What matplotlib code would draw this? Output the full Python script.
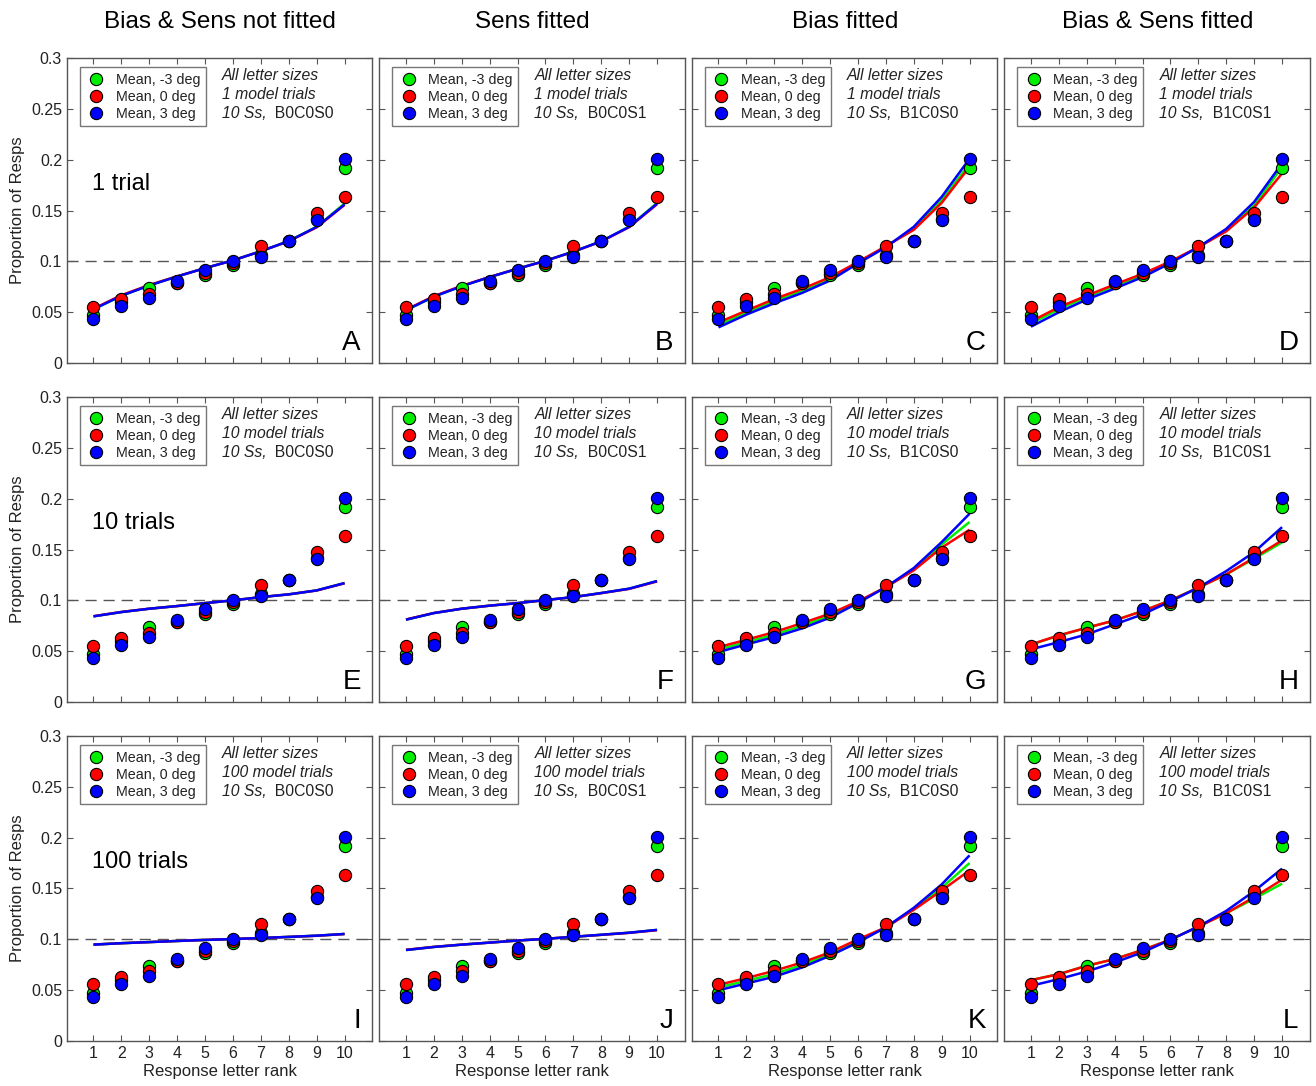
import matplotlib
matplotlib.use("Agg")
import matplotlib.pyplot as plt
from matplotlib.lines import Line2D

plt.rcParams['font.family'] = ['Liberation Sans', 'DejaVu Sans']

# Response letter rank
ranks = [1, 2, 3, 4, 5, 6, 7, 8, 9, 10]
ytick_vals = [0, 0.05, 0.1, 0.15, 0.2, 0.25, 0.3]
ytick_labels = ["0", "0.05", "0.1", "0.15", "0.2", "0.25", "0.3"]

# Observed mean proportion of responses at each eccentricity
obs_m3 = [0.0474, 0.0600, 0.0734, 0.0790, 0.0862, 0.0967, 0.1060, 0.1198, 0.1420, 0.1914]
obs_0 = [0.0556, 0.0628, 0.0684, 0.0786, 0.0885, 0.0987, 0.1155, 0.1196, 0.1477, 0.1632]
obs_p3 = [0.0434, 0.0559, 0.0641, 0.0803, 0.0911, 0.1003, 0.1043, 0.1200, 0.1405, 0.2010]

# Model predictions per panel: (-3 deg, 0 deg, 3 deg)
fit_A = ([0.0530, 0.0660, 0.0765, 0.0852, 0.0934, 0.1010, 0.1100, 0.1200, 0.1340, 0.1570],
         [0.0535, 0.0668, 0.0768, 0.0853, 0.0934, 0.1010, 0.1100, 0.1198, 0.1335, 0.1555],
         [0.0530, 0.0662, 0.0763, 0.0852, 0.0934, 0.1010, 0.1100, 0.1200, 0.1339, 0.1560])
fit_B = ([0.0520, 0.0652, 0.0757, 0.0846, 0.0928, 0.1006, 0.1096, 0.1198, 0.1342, 0.1575],
         [0.0525, 0.0658, 0.0760, 0.0847, 0.0928, 0.1006, 0.1095, 0.1196, 0.1336, 0.1562],
         [0.0520, 0.0654, 0.0756, 0.0846, 0.0928, 0.1006, 0.1096, 0.1198, 0.1340, 0.1568])
fit_C = ([0.0375, 0.0497, 0.0610, 0.0710, 0.0830, 0.0990, 0.1145, 0.1325, 0.1600, 0.1960],
         [0.0400, 0.0516, 0.0630, 0.0730, 0.0845, 0.0995, 0.1150, 0.1310, 0.1575, 0.1930],
         [0.0351, 0.0477, 0.0588, 0.0690, 0.0812, 0.0980, 0.1140, 0.1340, 0.1634, 0.2010])
fit_D = ([0.0390, 0.0530, 0.0650, 0.0760, 0.0865, 0.0995, 0.1140, 0.1305, 0.1550, 0.1930],
         [0.0410, 0.0550, 0.0664, 0.0773, 0.0878, 0.1000, 0.1140, 0.1296, 0.1530, 0.1865],
         [0.0358, 0.0500, 0.0625, 0.0733, 0.0845, 0.0983, 0.1140, 0.1320, 0.1585, 0.1964])
fit_E = ([0.0843, 0.0885, 0.0918, 0.0944, 0.0973, 0.1000, 0.1032, 0.1059, 0.1098, 0.1170],
         [0.0844, 0.0886, 0.0918, 0.0944, 0.0973, 0.1000, 0.1032, 0.1059, 0.1097, 0.1168],
         [0.0843, 0.0885, 0.0918, 0.0944, 0.0973, 0.1000, 0.1032, 0.1059, 0.1098, 0.1170])
fit_F = ([0.0810, 0.0875, 0.0918, 0.0948, 0.0973, 0.1003, 0.1032, 0.1072, 0.1115, 0.1190],
         [0.0812, 0.0876, 0.0918, 0.0948, 0.0973, 0.1003, 0.1032, 0.1071, 0.1113, 0.1186],
         [0.0810, 0.0875, 0.0918, 0.0948, 0.0973, 0.1003, 0.1032, 0.1072, 0.1115, 0.1190])
fit_G = ([0.0516, 0.0590, 0.0663, 0.0750, 0.0850, 0.0982, 0.1130, 0.1305, 0.1550, 0.1770],
         [0.0540, 0.0613, 0.0688, 0.0777, 0.0869, 0.0990, 0.1130, 0.1295, 0.1518, 0.1695],
         [0.0492, 0.0567, 0.0639, 0.0725, 0.0830, 0.0974, 0.1130, 0.1318, 0.1573, 0.1852])
fit_H = ([0.0565, 0.0654, 0.0730, 0.0803, 0.0895, 0.1000, 0.1125, 0.1256, 0.1410, 0.1570],
         [0.0567, 0.0656, 0.0731, 0.0803, 0.0895, 0.1000, 0.1125, 0.1256, 0.1420, 0.1590],
         [0.0518, 0.0590, 0.0666, 0.0764, 0.0862, 0.0990, 0.1125, 0.1288, 0.1475, 0.1720])
fit_I = ([0.0948, 0.0962, 0.0973, 0.0984, 0.0994, 0.1003, 0.1013, 0.1024, 0.1036, 0.1053],
         [0.0949, 0.0962, 0.0973, 0.0984, 0.0994, 0.1003, 0.1013, 0.1024, 0.1035, 0.1052],
         [0.0948, 0.0962, 0.0973, 0.0984, 0.0994, 0.1003, 0.1013, 0.1024, 0.1036, 0.1053])
fit_J = ([0.0895, 0.0925, 0.0948, 0.0968, 0.0988, 0.1005, 0.1025, 0.1045, 0.1065, 0.1093],
         [0.0897, 0.0926, 0.0948, 0.0968, 0.0988, 0.1005, 0.1025, 0.1044, 0.1064, 0.1090],
         [0.0895, 0.0925, 0.0948, 0.0968, 0.0988, 0.1005, 0.1025, 0.1045, 0.1065, 0.1093])
fit_K = ([0.0527, 0.0592, 0.0660, 0.0748, 0.0855, 0.0985, 0.1118, 0.1300, 0.1507, 0.1750],
         [0.0553, 0.0619, 0.0691, 0.0773, 0.0872, 0.1000, 0.1118, 0.1290, 0.1480, 0.1678],
         [0.0500, 0.0566, 0.0632, 0.0724, 0.0839, 0.0970, 0.1118, 0.1310, 0.1540, 0.1826])
fit_L = ([0.0599, 0.0658, 0.0740, 0.0806, 0.0895, 0.0997, 0.1125, 0.1257, 0.1400, 0.1547],
         [0.0599, 0.0658, 0.0740, 0.0806, 0.0895, 0.0997, 0.1125, 0.1257, 0.1415, 0.1586],
         [0.0543, 0.0609, 0.0684, 0.0773, 0.0872, 0.0997, 0.1125, 0.1280, 0.1474, 0.1695])

fits = [[fit_A, fit_B, fit_C, fit_D],
        [fit_E, fit_F, fit_G, fit_H],
        [fit_I, fit_J, fit_K, fit_L]]
panel_letters = [["A", "B", "C", "D"], ["E", "F", "G", "H"], ["I", "J", "K", "L"]]
column_titles = ["Bias & Sens not fitted", "Sens fitted", "Bias fitted", "Bias & Sens fitted"]
model_codes = ["B0C0S0", "B0C0S1", "B1C0S0", "B1C0S1"]
model_trials = [1, 10, 100]
row_labels = ["1 trial", "10 trials", "100 trials"]
series_labels = ["Mean, -3 deg", "Mean, 0 deg", "Mean, 3 deg"]
series_colors = ["#00ee00", "#ff0000", "#0000ff"]

observed = [obs_m3, obs_0, obs_p3]

fig, axes = plt.subplots(3, 4, figsize=(13.16, 10.86), dpi=100)
fig.subplots_adjust(left=0.0509, right=0.9954, top=0.9466, bottom=0.0414,
                    wspace=0.023, hspace=0.111)

spine_col = "#555555"
text_col = "#222222"

for r in range(3):
    for c in range(4):
        ax = axes[r, c]
        ax.axhline(0.1, color="#555555", lw=1.0, dashes=(8, 5), zorder=1)
        for k in range(3):
            ax.plot(ranks, fits[r][c][k], color=series_colors[k], lw=1.8,
                    solid_capstyle="butt", zorder=2 + k)
        for k in range(3):
            ax.plot(ranks, observed[k], linestyle="none", marker="o", ms=8.8,
                    mfc=series_colors[k], mec="black", mew=0.8, zorder=6 + k)

        ax.set_xlim(0.05, 11)
        ax.set_ylim(0, 0.3)
        ax.set_xticks(ranks)
        ax.set_yticks(ytick_vals)
        ax.tick_params(direction="in", length=4, width=0.8, top=True, right=True,
                       colors=spine_col, labelcolor=text_col, labelsize=11.5)
        for s in ax.spines.values():
            s.set_color(spine_col)
            s.set_linewidth(1.0)
        if r == 2:
            ax.set_xticklabels([str(v) for v in ranks])
            ax.set_xlabel("Response letter rank", fontsize=12, color=text_col, labelpad=2)
        else:
            ax.set_xticklabels([])
        if c == 0:
            ax.set_yticklabels(ytick_labels)
            ax.set_ylabel("Proportion of Resps", fontsize=12, color=text_col, labelpad=4)
            ax.text(0.083, 0.588, row_labels[r], transform=ax.transAxes, fontsize=17,
                    ha="left", va="center", color="black")
        else:
            ax.set_yticklabels([])

        handles = [Line2D([], [], linestyle="none", marker="o", ms=8.8,
                          mfc=series_colors[k], mec="black", mew=0.8)
                   for k in range(3)]
        leg = ax.legend(handles, series_labels, loc="upper left",
                        bbox_to_anchor=(0.042, 0.97), fontsize=10.3,
                        frameon=True, fancybox=False, borderpad=0.4,
                        labelspacing=0.2, handletextpad=0.6, handlelength=1.5,
                        borderaxespad=0.0)
        leg.get_frame().set_edgecolor("#555555")
        leg.get_frame().set_linewidth(1.0)
        for t in leg.get_texts():
            t.set_color(text_col)

        ax.text(0.507, 0.941, "All letter sizes", transform=ax.transAxes,
                fontsize=11.3, style="italic", ha="left", va="center", color=text_col)
        ax.text(0.507, 0.879, f"{model_trials[r]} model trials", transform=ax.transAxes,
                fontsize=11.3, style="italic", ha="left", va="center", color=text_col)
        t1 = ax.text(0.507, 0.817, "10 Ss,", transform=ax.transAxes,
                     fontsize=11.3, style="italic", ha="left", va="center", color=text_col)
        ax.annotate("  " + model_codes[c], xy=(1, 0.5), xycoords=t1,
                    fontsize=11.3, ha="left", va="center", color=text_col)

        ax.text(0.962, 0.022, panel_letters[r][c], transform=ax.transAxes,
                fontsize=20, ha="right", va="bottom", color="black")

for c in range(4):
    pos = axes[0, c].get_position()
    fig.text((pos.x0 + pos.x1) / 2, 0.980, column_titles[c], fontsize=17.5,
             ha="center", va="center", color="black")

fig.savefig("out.png", dpi=100)
